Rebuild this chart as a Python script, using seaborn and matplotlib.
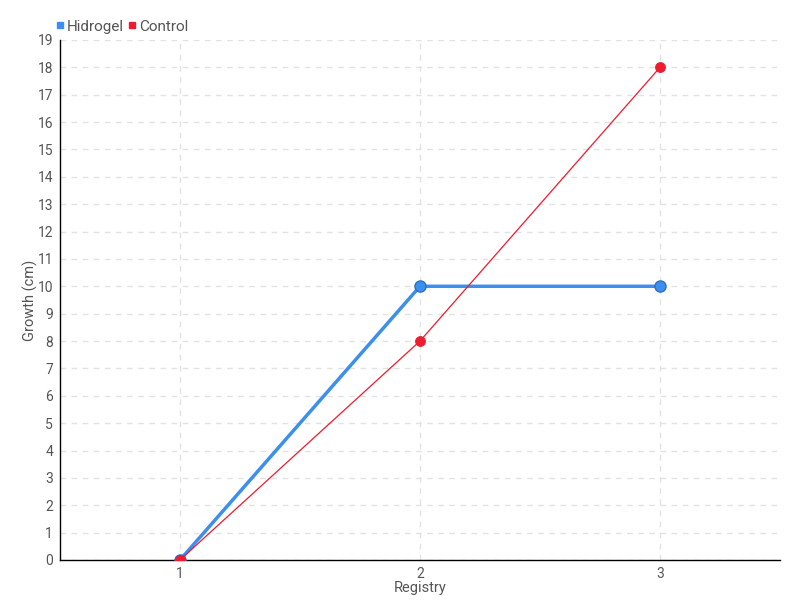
import pandas as pd
import numpy as np
import matplotlib
matplotlib.use('Agg')
import matplotlib.pyplot as plt
import seaborn as sns
from matplotlib.lines import Line2D

# data
registry = [1, 2, 3]
hidrogel = [0, 10, 10]
control = [0, 8, 18]

sns.set_style('white')
plt.rcParams['font.family'] = ['Liberation Sans Narrow', 'Roboto', 'DejaVu Sans']

df = pd.DataFrame({'Registry': registry * 2,
                   'Growth': hidrogel + control,
                   'Series': ['Hidrogel'] * 3 + ['Control'] * 3})

blue = '#3d8fef'
red = '#ee1c2e'
txt = '#555555'

fig = plt.figure(figsize=(8, 6), dpi=100)
ax = fig.add_axes([0.075, 0.0667, 0.9, 0.8667])

sns.lineplot(data=df[df['Series'] == 'Hidrogel'], x='Registry', y='Growth',
             color=blue, linewidth=2.5, marker='o', markersize=8,
             markeredgecolor='#2a6fc4', markeredgewidth=1, ax=ax, zorder=3)
sns.lineplot(data=df[df['Series'] == 'Control'], x='Registry', y='Growth',
             color=red, linewidth=0.9, marker='o', markersize=7,
             markeredgecolor=red, ax=ax, zorder=4)

ax.set_xlim(0.5, 3.5)
ax.set_ylim(0, 19)
ax.set_xticks(registry)
ax.set_yticks(range(0, 20))
ax.grid(True, linestyle=(0, (4, 4)), color='#e2e2e2', linewidth=1)
for s in ['top', 'right']:
    ax.spines[s].set_visible(False)
for s in ['left', 'bottom']:
    ax.spines[s].set_color('black')
    ax.spines[s].set_linewidth(1)
ax.tick_params(axis='both', direction='out', length=4, width=1, colors='black',
               labelcolor=txt, labelsize=10, pad=1)
ax.set_xlabel('Registry', color=txt, fontsize=10.5)
ax.set_ylabel('Growth (cm)', color=txt, fontsize=10.5)
ax.xaxis.set_label_coords(0.5, -0.041)
ax.yaxis.set_label_coords(-0.03, 0.5)

# legend
handles = [Line2D([], [], linestyle='none', marker='s', markersize=4.5, color=blue),
           Line2D([], [], linestyle='none', marker='s', markersize=4.5, color=red)]
fig.legend(handles, ['Hidrogel', 'Control'], loc='upper left', bbox_to_anchor=(0.053, 0.99),
           ncol=2, frameon=False, handlelength=0.5, handletextpad=0.2, columnspacing=0.3,
           fontsize=11, labelcolor=txt)

fig.savefig('out.png', dpi=100)
